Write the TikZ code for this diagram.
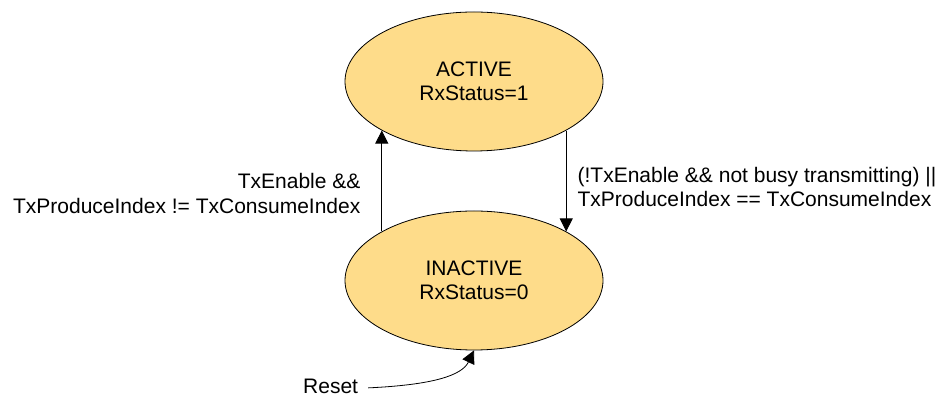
\documentclass[tikz,border=0pt]{standalone}
\usepackage{fontspec}
\setmainfont{Liberation Sans}
\usetikzlibrary{arrows.meta,shapes.geometric}
\definecolor{statefill}{RGB}{254,220,138}
\begin{document}
\begin{tikzpicture}[x=1pt, y=1pt,
    every node/.style={font=\fontsize{21}{24.5}\selectfont},
    state/.style={draw, ellipse, fill=statefill, line width=0.8pt, minimum width=258pt, minimum height=139pt, inner sep=0pt, align=center},
    trans/.style={-{Triangle[length=13pt, width=13pt]}, line width=0.8pt},
    cond/.style={inner sep=0pt}]
    \useasboundingbox (0,0) rectangle (942,398);
    % Etats
    \node[state] (active) at (474,316.5) {ACTIVE\\RxStatus=1};
    \node[state] (inactive) at (474,117.5) {INACTIVE\\RxStatus=0};
    \node[cond, anchor=base west] (reset) at (303,4.5) {Reset};

    % Transitions
    \draw[trans] (inactive.152) -- node[cond, pos=0.375, left=21pt, align=right] {TxEnable \&\&\\TxProduceIndex != TxConsumeIndex} (inactive.152 |- active.208);
    \draw[trans] (active.-28) -- node[cond, pos=0.559, right=11pt, align=left] {(!TxEnable \&\& not busy transmitting) ||\\TxProduceIndex == TxConsumeIndex} (active.-28 |- inactive.28);
    \draw[trans] ([xshift=10pt,yshift=-1.5pt]reset.east) .. controls +(65pt,3pt) and +(-12pt,-25pt) .. (inactive.south);
\end{tikzpicture}
\end{document}
